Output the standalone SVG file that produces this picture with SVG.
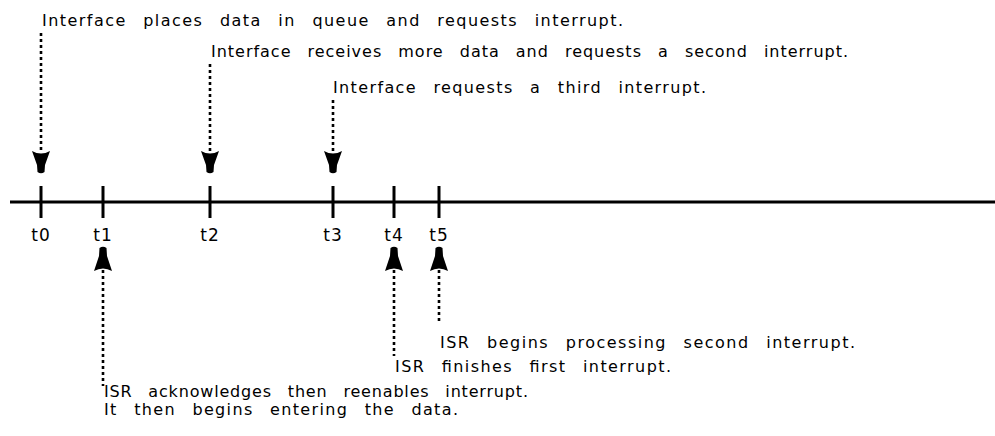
<svg xmlns="http://www.w3.org/2000/svg" width="995" height="436" viewBox="0 0 995 436">
<style>
.txt{font-family:"DejaVu Sans","Liberation Sans",sans-serif;font-size:16px;fill:#000;word-spacing:10px}
.lbl{font-family:"DejaVu Sans","Liberation Sans",sans-serif;font-size:17px;fill:#000;text-anchor:middle;letter-spacing:1px}
.dot{stroke:#000;stroke-width:2.6;stroke-dasharray:3 3;fill:none}
.tick{stroke:#000;stroke-width:3}
.axis{stroke:#000;stroke-width:3}
</style>
<defs>
<path id="down" d="M-9,-22 Q0,-17 9,-22 L4,-8 L3.5,-1 Q0,1.5 -3.5,-1 L-4,-8 Z" fill="#000"/>
<path id="up" d="M-9,24 Q0,19 9,24 L4,9 L3.5,1 Q0,-1.5 -3.5,1 L-4,9 Z" fill="#000"/>
</defs>
<g id="timeline">
<line class="axis" x1="10" y1="202" x2="995" y2="202"/>
<g id="t0"><line class="tick" x1="41" y1="186" x2="41" y2="218"/><text class="lbl" x="41" y="241">t0</text></g>
<g id="t1"><line class="tick" x1="103" y1="186" x2="103" y2="218"/><text class="lbl" x="103" y="241">t1</text></g>
<g id="t2"><line class="tick" x1="210" y1="186" x2="210" y2="218"/><text class="lbl" x="210" y="241">t2</text></g>
<g id="t3"><line class="tick" x1="333" y1="186" x2="333" y2="218"/><text class="lbl" x="333" y="241">t3</text></g>
<g id="t4"><line class="tick" x1="394" y1="186" x2="394" y2="218"/><text class="lbl" x="394" y="241">t4</text></g>
<g id="t5"><line class="tick" x1="439" y1="186" x2="439" y2="218"/><text class="lbl" x="439" y="241">t5</text></g>
</g>
<g id="connectors">
<line class="dot" x1="41" y1="33" x2="41" y2="152"/><use href="#down" x="41" y="173"/>
<line class="dot" x1="210" y1="64" x2="210" y2="152"/><use href="#down" x="210" y="173"/>
<line class="dot" x1="333" y1="100" x2="333" y2="152"/><use href="#down" x="333" y="173"/>
<use href="#up" x="103" y="247"/><line class="dot" x1="103" y1="270" x2="103" y2="386"/>
<use href="#up" x="394" y="247"/><line class="dot" x1="394" y1="270" x2="394" y2="356"/>
<use href="#up" x="439" y="247"/><line class="dot" x1="439" y1="270" x2="439" y2="323"/>
</g>
<g id="note-t0"><text class="txt" x="42" y="26" textLength="581" lengthAdjust="spacing">Interface places data in queue and requests interrupt.</text></g>
<g id="note-t2"><text class="txt" x="211" y="57" textLength="637" lengthAdjust="spacing">Interface receives more data and requests a second interrupt.</text></g>
<g id="note-t3"><text class="txt" x="333" y="93" textLength="373" lengthAdjust="spacing">Interface requests a third interrupt.</text></g>
<g id="note-t5"><text class="txt" x="440" y="348" textLength="415" lengthAdjust="spacing">ISR begins processing second interrupt.</text></g>
<g id="note-t4"><text class="txt" x="395" y="372" textLength="276" lengthAdjust="spacing">ISR finishes first interrupt.</text></g>
<g id="note-t1">
<text class="txt" x="104" y="397" textLength="424" lengthAdjust="spacing">ISR acknowledges then reenables interrupt.</text>
<text class="txt" x="104" y="415" textLength="354" lengthAdjust="spacing">It then begins entering the data.</text>
</g>
</svg>
